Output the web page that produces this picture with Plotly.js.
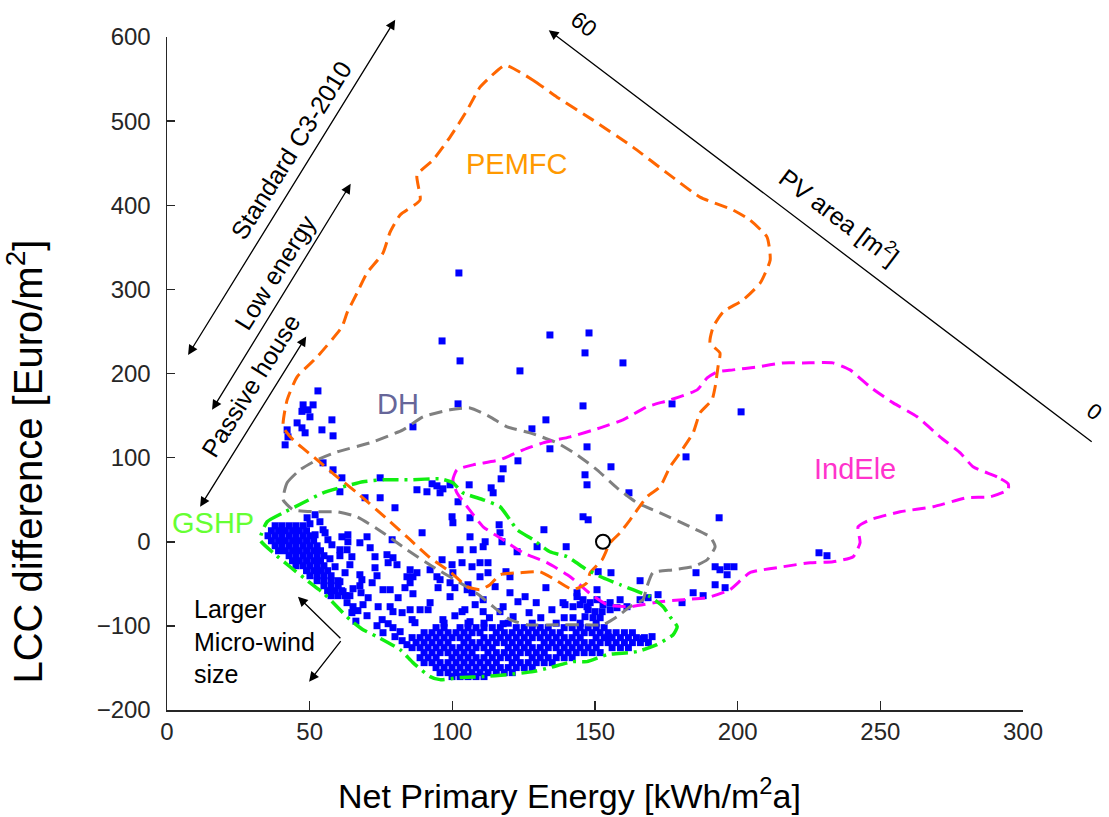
<!DOCTYPE html>
<html><head><meta charset="utf-8">
<script src="https://cdn.plot.ly/plotly-3.0.1.min.js"></script>
<style>html,body{margin:0;padding:0;background:#fff}#chart{width:1109px;height:817px}</style>
</head><body><div id="chart"></div>
<script>
// ---------------- DATA ----------------
const xTicks = [0, 50, 100, 150, 200, 250, 300];
const yTicks = [-200, -100, 0, 100, 200, 300, 400, 500, 600];

// PEMFC boundary (orange dashed)
const pemfcX = [118.5,128.3,136.7,149.3,163.3,175.3,186.8,198.4,204.3,210.3,211.4,207.9,201.9,194.9,191.4,190.3,193.8,193.1,192.1,191.0,186.8,184.4,179.8,176.3,172.8,168.2,162.3,158.8,155.3,152.5,148.3,147.2,142.3,136.0,130.7,123.7,116.7,113.2,109.7,105.2,99.2,92.2,85.2,78.2,66.6,59.6,52.6,44.2,40.7,42.1,45.6,52.6,61.3,63.1,66.6,70.1,75.7,78.2,81.7,88.7,87.6,93.2,99.2,105.2,109.7,113.2,118.5];
const pemfcY = [566.5,548.7,528.5,501.2,469.1,438.2,409.7,394.3,382.4,362.2,334.9,307.6,287.4,273.2,255.3,236.3,224.5,207.8,184.1,168.6,153.2,129.5,105.7,89.1,65.3,53.4,26.1,10.7,-1.2,-21.4,-36.8,-48.7,-57.0,-45.1,-35.6,-36.8,-39.2,-51.1,-57.0,-53.4,-35.6,-19.0,2.4,23.8,58.2,77.2,97.4,121.1,136.6,168.6,196.0,219.7,255.3,272.0,295.7,319.5,343.2,368.2,388.4,406.2,435.9,453.7,481.0,513.1,540.4,552.3,566.5];

// DH boundary (grey dashed)
const dhX = [40.7,42.1,46.6,52.6,59.6,71.2,82.7,89.7,99.2,106.2,113.2,119.2,127.2,136.7,143.7,150.7,157.7,164.7,172.8,183.3,190.3,192.1,189.3,184.4,177.4,170.3,168.2,166.8,162.3,157.7,152.8,144.8,137.7,126.2,120.2,114.3,109.7,102.7,93.2,84.1,75.7,66.6,59.6,52.6,44.2,40.7];
const dhY = [49.9,70.1,85.5,97.4,106.9,117.6,133.0,148.5,156.8,159.1,148.5,136.6,129.5,117.6,103.3,85.5,64.1,46.3,34.4,17.8,5.9,-5.9,-21.4,-29.7,-33.3,-36.8,-53.4,-68.9,-77.2,-89.1,-98.6,-98.6,-98.6,-98.6,-92.6,-77.2,-64.1,-48.7,-29.7,-9.5,10.7,29.7,35.6,35.6,38.0,49.9];

// IndEle boundary (magenta dashed)
const indEleX = [294.8,290.9,282.5,278.0,270.9,262.9,254.5,246.4,239.4,233.4,222.9,215.9,206.8,198.4,192.8,189.3,185.8,176.3,168.2,159.8,151.8,141.3,131.8,124.8,116.7,107.3,101.6,100.2,101.6,105.2,110.8,117.8,124.8,133.2,141.3,148.3,154.2,162.3,172.8,180.9,189.3,197.3,204.3,215.9,225.4,233.4,240.5,242.9,242.2,246.4,256.9,268.5,280.4,288.5,294.8,294.8];
const indEleY = [68.9,77.2,89.1,105.7,124.7,148.5,165.1,184.1,204.3,212.6,212.6,212.6,207.8,204.3,201.9,194.8,180.5,168.6,160.3,144.9,135.4,124.7,117.6,109.3,97.4,91.4,85.5,73.6,58.2,41.6,17.8,2.4,-13.1,-24.9,-41.6,-61.8,-74.8,-77.2,-71.3,-68.9,-66.5,-57.0,-36.8,-29.7,-24.9,-23.8,-17.8,-1.2,17.8,26.1,35.6,41.6,52.3,53.4,61.8,68.9];

// GSHP boundary (green dash-dot)
const gshpX = [32.6,35.1,40.7,47.7,54.7,61.7,68.7,75.7,85.2,95.7,100.2,103.7,110.8,116.7,120.2,122.7,128.3,134.2,140.2,147.2,152.8,158.8,163.3,169.3,173.9,176.3,178.8,177.4,171.7,164.7,154.2,147.2,142.3,134.2,128.3,119.2,110.8,102.7,95.7,92.2,86.2,81.7,73.6,68.7,64.1,59.6,54.7,50.1,43.1,37.2,32.6];
const gshpY = [2.4,23.8,34.4,46.3,58.2,65.3,71.3,73.6,73.6,74.8,70.1,58.2,49.9,41.6,26.1,14.3,2.4,-11.9,-17.8,-33.3,-42.8,-51.1,-57.0,-65.3,-77.2,-89.1,-101.0,-110.5,-122.3,-130.6,-134.2,-142.5,-142.5,-149.6,-154.4,-158.0,-160.3,-161.5,-163.9,-160.3,-143.7,-128.3,-112.8,-104.5,-92.6,-77.2,-60.6,-48.7,-29.7,-13.1,2.4];

// dense cluster, lower-left (rows: [y, [x...]])
const blobLeftRows = [
  [19.0, [37.9,40.3,42.8,45.2,47.7]],
  [13.1, [36.6,39.1,41.5,44.0,46.4,48.9]],
  [7.1,  [35.4,37.9,40.3,42.8,45.2,47.7,50.1]],
  [1.2,  [36.6,39.1,41.5,44.0,46.4,48.9,51.4]],
  [-4.8, [37.9,40.3,42.8,45.2,47.7,50.1,52.6]],
  [-10.7,[39.1,41.5,44.0,46.4,48.9,51.4,53.8]],
  [-16.6,[42.8,45.2,47.7,50.1,52.6,55.0]],
  [-22.6,[44.0,46.4,48.9,51.4,53.8]],
  [-28.5,[45.2,47.7,50.1,52.6,55.0]],
  [-34.4,[48.9,51.4,53.8,56.3]],
  [-40.4,[50.1,52.6,55.0,57.5]],
  [-46.3,[52.6,55.0,57.5,59.9]],
  [-52.3,[55.0,57.5,60.0]],
  [-58.2,[56.3,58.7,61.2]],
  [-64.1,[57.5,59.9,62.4]]
];

// dense cluster, bottom (rows: [y, [x...]])
const blobBottomRows = [
  [-96.8, [97.1,105.5,111.1,119.6,128.0,136.4,144.8,150.4]],
  [-102.1,[94.3,97.1,102.7,105.5,108.3,111.1,114.0,116.8,122.4,125.2,128.0,130.8,133.6,139.2,142.0,144.8,147.6,150.4,153.2]],
  [-108.1,[90.1,92.9,95.7,98.5,101.3,104.1,106.9,109.7,115.4,118.2,121.0,123.8,126.6,129.4,132.2,135.0,137.8,143.4,146.2,149.0,151.8,154.6,157.4,160.3,163.1]],
  [-114.0,[85.9,88.7,91.5,94.3,97.1,99.9,102.7,105.5,111.1,114.0,116.8,119.6,122.4,125.2,128.0,130.8,133.6,136.4,139.2,142.0,144.8,150.4,153.2,156.0,158.9,161.7,164.5,167.3]],
  [-119.9,[87.3,90.1,92.9,95.7,98.5,104.1,106.9,109.7,112.5,115.4,118.2,121.0,123.8,126.6,132.2,135.0,137.8,140.6,143.4,146.2,149.0,151.8,154.6,157.4,160.3,163.1,165.9,168.7]],
  [-125.9,[85.9,88.7,91.5,94.3,97.1,99.9,102.7,105.5,108.3,111.1,114.0,119.6,122.4,125.2,128.0,130.8,133.6,136.4,139.2,142.0,144.8,147.6,150.4,156.0,158.9,161.7]],
  [-131.8,[90.1,92.9,95.7,98.5,101.3,104.1,106.9,112.5,115.4,118.2,121.0,123.8,126.6,129.4,132.2,137.8,140.6,143.4,146.2,149.0,151.8]],
  [-137.8,[88.7,91.5,94.3,99.9,102.7,105.5,108.3,111.1,114.0,116.8,119.6,122.4,128.0,130.8,133.6,136.4,139.2,142.0]],
  [-143.7,[90.1,92.9,95.7,98.5,101.3,104.1,106.9,109.7,112.5,115.4,121.0,123.8,126.6,129.4,132.2,135.0]],
  [-149.6,[94.3,97.1,99.9,102.7,105.5,108.3,111.1,114.0,116.8,119.6,122.4,125.2,128.0]],
  [-155.6,[95.7,98.5,101.3,104.1,106.9,109.7,112.5,115.4,118.2,121.0]],
  [-160.3,[99.9,102.7,105.5,108.3,111.1]]
];

// scattered individual solutions [x, y]
const ptsSparse = [
  [52.9,179.3],[47.7,162.7],[51.2,162.7],[49.4,156.8],[47.3,155.0],[50.1,148.5],[57.8,144.9],[45.6,141.3],[47.3,135.4],[48.4,129.5],[54.3,133.0],[42.1,133.0],[42.4,124.7],[58.2,125.9],[41.4,115.2],
  [54.7,93.8],[58.2,85.5],[61.3,76.0],[60.6,59.4],[74.7,76.0],[69.4,52.3],[74.7,52.3],[79.9,40.4],[86.2,136.6],[89.4,10.7],[87.6,61.8],[91.1,59.4],[94.6,66.5],[96.7,62.9],[92.9,68.9],[99.2,67.7],[95.7,58.2],[102.0,47.5],[99.9,29.7],[100.2,22.6],[106.2,28.5],[106.2,5.9],[111.5,0],[110.8,-5.9],[116.4,20.2],[116.7,10.7],[117.4,0],[105.9,67.7],[113.6,64.1],[114.3,58.2],[117.1,74.8],[117.8,86.7],[123.0,96.2],[127.9,134.2],[132.8,144.9],[134.2,110.5],[147.2,112.8],[145.8,161.5],[155.6,89.1],[146.5,79.6],[147.2,67.7],[161.9,58.2],[102.0,163.9],[102.3,319.5],[96.4,238.7],[102.7,215.0],[123.7,203.1],[134.2,245.8],[147.9,248.2],[146.5,224.5],[159.8,212.6],[177.0,163.9],[201.2,154.4],[181.9,100.9],[145.8,29.7],[147.6,26.1],[193.5,28.5],[132.1,14.3],[139.9,-5.9],[122.7,-11.9],[129.7,-5.9],[102.7,-9.5],[107.3,-9.5],[96.4,-21.4],[99.9,-27.3],[103.4,-24.9],[106.9,-29.7],[109.7,-24.9],[112.5,-24.9],[112.5,-36.8],[109.7,-41.6],[95.7,-45.1],[99.2,-48.7],[100.9,-54.6],[105.5,-51.1],[105.2,-57.0],[106.9,-60.6],[95.0,-54.6],[85.2,-33.3],[84.1,-41.6],[86.2,-41.6],[85.2,-48.7],[83.4,-54.6],[86.2,-61.8],[118.8,-35.6],[120.2,-41.6],[132.8,-54.6],[125.5,-65.3],[123.0,-71.3],[138.8,-72.4],[142.3,-77.2],[117.8,-77.2],[116.7,-83.1],[104.4,-80.8],[92.2,-72.4],[91.5,-80.8],[82.4,-84.3],[85.9,-92.6],[86.9,-96.2],[121.3,-89.1],[139.2,-90.3],[142.3,-90.3],[106.2,-95.0],[117.8,-97.4],[96.7,-92.6],[139.5,-74.8],[147.2,-77.2],[143.7,-60.6],[115.0,-53.4],[120.2,-60.6],[110.8,-68.9],[110.8,-83.1],[99.2,-65.3],[94.6,-41.6],[92.2,-33.3],[100.2,-36.8],[103.4,-83.1],[85.2,-80.8],[88.7,-80.8],
  [126.9,-84.3],[131.0,-90.3],[134.9,-80.8],[113.0,-90.3],[100.9,-88.0],[129.4,-72.4],[108.0,-74.8]
];
const ptsRight = [
  [151.1,-35.6],[155.6,-36.8],[165.8,-46.3],[150.7,-57.0],[172.1,-62.9],[143.7,-65.3],[168.6,-66.5],[165.8,-68.9],[161.2,-77.2],[192.1,-29.7],[193.8,-33.3],[196.3,-29.7],[198.7,-29.7],[196.3,-39.2],[185.4,-36.8],[192.1,-51.1],[195.6,-54.6],[184.4,-60.6],[187.9,-64.1],[180.5,-72.4],[228.5,-13.1],[231.3,-16.6],[166.8,-115.2],[170.0,-112.8],[154.6,-112.8],
  [145.8,-68.9],[148.3,-72.4],[150.7,-68.9],[152.8,-74.8],[155.3,-72.4],[147.6,-80.8],[150.0,-83.1],[152.5,-83.1],[155.3,-80.8],[157.7,-78.4],[146.5,-89.1],[149.3,-90.3],[151.8,-90.3],[144.8,-74.8],[158.8,-68.9]
];
const ptsMiddle = [
  [60.6,-9.5],[63.1,-9.5],[60.6,-16.6],[64.8,-17.8],[58.9,-29.7],[64.1,-27.3],[72.9,-30.9],[60.6,-47.5],[67.6,-39.2],[68.3,-45.1],[67.6,-52.3],[65.2,-55.8],[68.0,-60.6],[61.7,-59.4],[64.1,-64.1],[78.2,-57.0],[87.6,-36.8],[63.1,-72.4],[65.2,-77.2],[66.9,-81.9],[68.7,-74.8],[70.1,-87.9],[64.8,-84.3],[74.0,-77.2],[78.2,-77.2],[75.4,-92.6],[77.5,-97.4],[79.2,-102.1],[81.7,-106.9],[75.7,-108.1],[79.9,-112.8],[82.4,-117.6],[84.1,-122.3],[73.6,-99.8],[72.9,-17.8],[77.1,-15.4],[79.2,-19.0],[77.5,-24.9],[80.6,-27.3],[55.4,10.7],[56.4,2.4],[57.8,-3.6],[61.3,5.9],[63.4,8.3],[63.4,0],[67.6,-1.2],[70.1,5.9],[78.9,2.4],[49.1,28.5],[51.9,32.1],[53.6,23.8],[50.1,21.4],[54.7,14.3],[51.9,8.3],[71.2,-7.1],[71.9,-48.7],[75.7,-57.0],[81.0,-66.5],[79.2,-83.1],
  [57.1,-20.2],[62.4,-36.8],[70.5,-66.5],[73.6,-40.4],[66.2,-94.4]
];
// reference design (open circle)
const refX = [152.8];
const refY = [0];

// ---------------- BUILD ----------------
const px = [], py = [];
function addRows(rows){ rows.forEach(r => r[1].forEach(x => { px.push(x); py.push(r[0]); })); }
function addPts(pts){ pts.forEach(p => { px.push(p[0]); py.push(p[1]); }); }
addRows(blobLeftRows); addRows(blobBottomRows);
addPts(ptsSparse); addPts(ptsRight); addPts(ptsMiddle);

const FONT = 'Liberation Sans, Arial, sans-serif';
const lineTrace = (x, y, color, dash, w) => ({
  x, y, type: 'scatter', mode: 'lines', hoverinfo: 'skip',
  line: {color, width: w, dash, shape: 'spline', smoothing: 0.5}
});

const data = [
  {x: px, y: py, type: 'scatter', mode: 'markers', hoverinfo: 'skip',
   marker: {symbol: 'square', size: 7, color: '#0000ff', line: {width: 0}}},
  lineTrace(dhX, dhY, '#808080', '13px,7px', 3),
  lineTrace(indEleX, indEleY, '#ff00ff', '13px,7px', 3),
  lineTrace(pemfcX, pemfcY, '#ff6600', '13px,7px', 3),
  lineTrace(gshpX, gshpY, '#11ee11', '16px,6px,3px,6px', 3.5),
  {x: refX, y: refY, type: 'scatter', mode: 'markers', hoverinfo: 'skip',
   marker: {symbol: 'circle-open', size: 14, color: '#000', line: {width: 2, color: '#000'}}}
];

const arrowBase = {text: '', showarrow: true, axref: 'x', ayref: 'y', arrowhead: 2,
  arrowsize: 1.5, arrowwidth: 1.3, arrowcolor: '#000', standoff: 0, startstandoff: 0};
const txt = (x, y, text, size, color, angle, extra) => Object.assign({
  x, y, text, showarrow: false, textangle: angle || 0, xanchor: 'center', yanchor: 'middle',
  font: {family: FONT, size, color}}, extra || {});

const annotations = [
  // double arrows for building standards
  Object.assign({}, arrowBase, {x: 7.4, y: 222.1, ax: 80.3, ay: 622.3, arrowside: 'end+start', startarrowhead: 2, startarrowsize: 1.5}),
  Object.assign({}, arrowBase, {x: 15.8, y: 156.8, ax: 64.7, ay: 427.2, arrowside: 'end+start', startarrowhead: 2, startarrowsize: 1.5}),
  Object.assign({}, arrowBase, {x: 11.6, y: 41.6, ax: 49.1, ay: 245.8, arrowside: 'end+start', startarrowhead: 2, startarrowsize: 1.5}),
  txt(43.5, 465.6, 'Standard C3-2010', 25, '#000', -58),
  txt(37.9, 320.7, 'Low energy', 25, '#000', -58),
  txt(29.4, 186.5, 'Passive house', 25, '#000', -58),
  // PV area arrow
  Object.assign({}, arrowBase, {x: 133.8, y: 608.1, ax: 324.6, ay: 117.6, arrowside: 'end'}),
  txt(235.9, 387.2, 'PV area [m<sup>2</sup>]', 25, '#000', 37),
  txt(0.487, 1.019, '60', 23, '#000', 37, {xref: 'paper', yref: 'paper'}),
  txt(1.083, 0.443, '0', 22, '#000', 37, {xref: 'paper', yref: 'paper'}),
  // micro-wind
  Object.assign({}, arrowBase, {x: 45.9, y: -65.3, ax: 61.3, ay: -116.4}),
  Object.assign({}, arrowBase, {x: 49.8, y: -166.3, ax: 61.3, ay: -116.4}),
  txt(8.8, -118.8, 'Larger<br>Micro-wind<br>size', 25, '#000', 0, {xanchor: 'left', align: 'left'}),
  // system labels
  txt(122.7, 448.9, 'PEMFC', 29, '#ff9900', 0),
  txt(81.0, 163.9, 'DH', 29, '#666699', 0),
  txt(241.1, 86.7, 'IndEle', 29, '#ff33cc', 0),
  txt(16.1, 22.6, 'GSHP', 29, '#66ff33', 0),
  // axis titles
  txt(-0.166, 0.369, 'LCC difference [Euro/m<sup>2</sup>]', 40, '#000', -90, {xref: 'paper', yref: 'paper'}),
  txt(0.470, -0.1245, 'Net Primary Energy [kWh/m<sup>2</sup>a]', 34, '#000', 0, {xref: 'paper', yref: 'paper'})
];

const axisCommon = {
  showgrid: false, zeroline: false, showline: true, linecolor: '#262626', linewidth: 1.5,
  ticks: 'inside', tickcolor: '#262626', tickwidth: 1.5, mirror: false, fixedrange: true,
  tickfont: {family: FONT, size: 24, color: '#262626'}
};

const layout = {
  width: 1109, height: 817,
  margin: {l: 167, r: 86, t: 37, b: 107},
  paper_bgcolor: '#fff', plot_bgcolor: '#fff',
  showlegend: false,
  font: {family: FONT},
  xaxis: Object.assign({}, axisCommon, {range: [0, 300], tickvals: xTicks, ticklen: 9, ticklabelstandoff: 0}),
  yaxis: Object.assign({}, axisCommon, {range: [-200, 600], tickvals: yTicks, ticklen: 8, ticklabelstandoff: 10}),
  annotations
};

Plotly.newPlot('chart', data, layout, {displayModeBar: false, staticPlot: true});
</script>
</body></html>
